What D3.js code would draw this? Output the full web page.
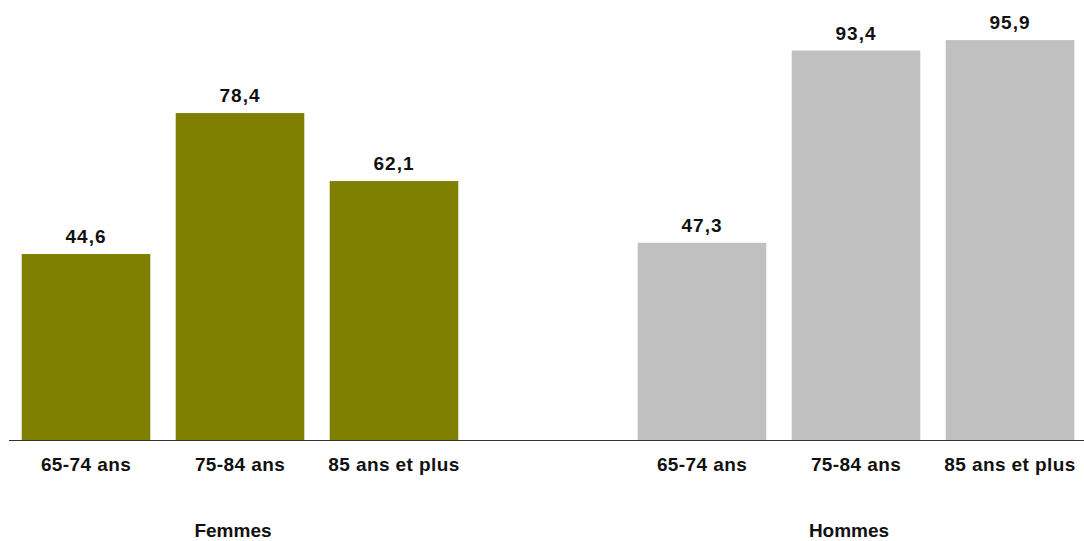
<!DOCTYPE html>
<html>
<head>
<meta charset="utf-8">
<script src="https://cdn.jsdelivr.net/npm/d3@7"></script>
<style>
  html, body { margin: 0; padding: 0; background: #fff; }
  svg { display: block; font-family: "Liberation Sans", Arial, sans-serif; }
</style>
</head>
<body>
<svg id="chart" width="1084" height="541"></svg>
<script>
const groups = ["Femmes", "Hommes"];
const ageLabels = ["65-74 ans", "75-84 ans", "85 ans et plus"];
const femmesValues = [44.6, 78.4, 62.1];
const hommesValues = [47.3, 93.4, 95.9];
const groupColors = ["#808000", "#c0c0c0"];

const data = [];
groups.forEach((g, gi) => {
  const vals = gi === 0 ? femmesValues : hommesValues;
  ageLabels.forEach((a, ai) => {
    data.push({ key: g + "|" + a, group: g, gi: gi, age: a, value: vals[ai] });
  });
});

// slots: 3 Femmes, 1 gap, 3 Hommes
const slots = [];
groups.forEach((g, gi) => {
  ageLabels.forEach(a => slots.push(g + "|" + a));
  if (gi < groups.length - 1) slots.push("gap" + gi);
});

const svg = d3.select("#chart");
const x = d3.scaleBand().domain(slots).range([9, 1087]).paddingInner(0.165).paddingOuter(0.0825);
const y = d3.scaleLinear().domain([0, 100]).range([440, 23]);
const fmt = v => d3.format(".1f")(v).replace(".", ",");

svg.append("g").selectAll("rect").data(data).enter().append("rect")
  .attr("x", d => x(d.key))
  .attr("y", d => y(d.value))
  .attr("width", x.bandwidth())
  .attr("height", d => y(0) - y(d.value))
  .attr("fill", d => groupColors[d.gi]);

// baseline axis
const axis = svg.append("g").attr("transform", `translate(0,${y(0)})`)
  .call(d3.axisBottom(x).tickSize(0).tickFormat(""));
axis.select(".domain").attr("stroke", "#333").attr("stroke-width", 1.2)
  .attr("d", "M9,0.5H1084");

// value labels
svg.append("g").selectAll("text").data(data).enter().append("text")
  .attr("x", d => x(d.key) + x.bandwidth() / 2)
  .attr("y", d => y(d.value) - 11)
  .attr("text-anchor", "middle")
  .attr("font-size", 19).attr("font-weight", "bold").attr("fill", "#111")
  .attr("letter-spacing", 1)
  .text(d => fmt(d.value));

// category labels
svg.append("g").selectAll("text").data(data).enter().append("text")
  .attr("x", d => x(d.key) + x.bandwidth() / 2)
  .attr("y", 471)
  .attr("text-anchor", "middle")
  .attr("font-size", 19).attr("font-weight", "bold").attr("fill", "#111")
  .attr("letter-spacing", 0.4)
  .text(d => d.age);

// group labels
svg.append("g").selectAll("text").data(groups).enter().append("text")
  .attr("x", g => x(g + "|" + ageLabels[1]) + x.bandwidth() / 2 - 7)
  .attr("y", 537)
  .attr("text-anchor", "middle")
  .attr("font-size", 19).attr("font-weight", "bold").attr("fill", "#111")
  .text(g => g);
</script>
</body>
</html>
